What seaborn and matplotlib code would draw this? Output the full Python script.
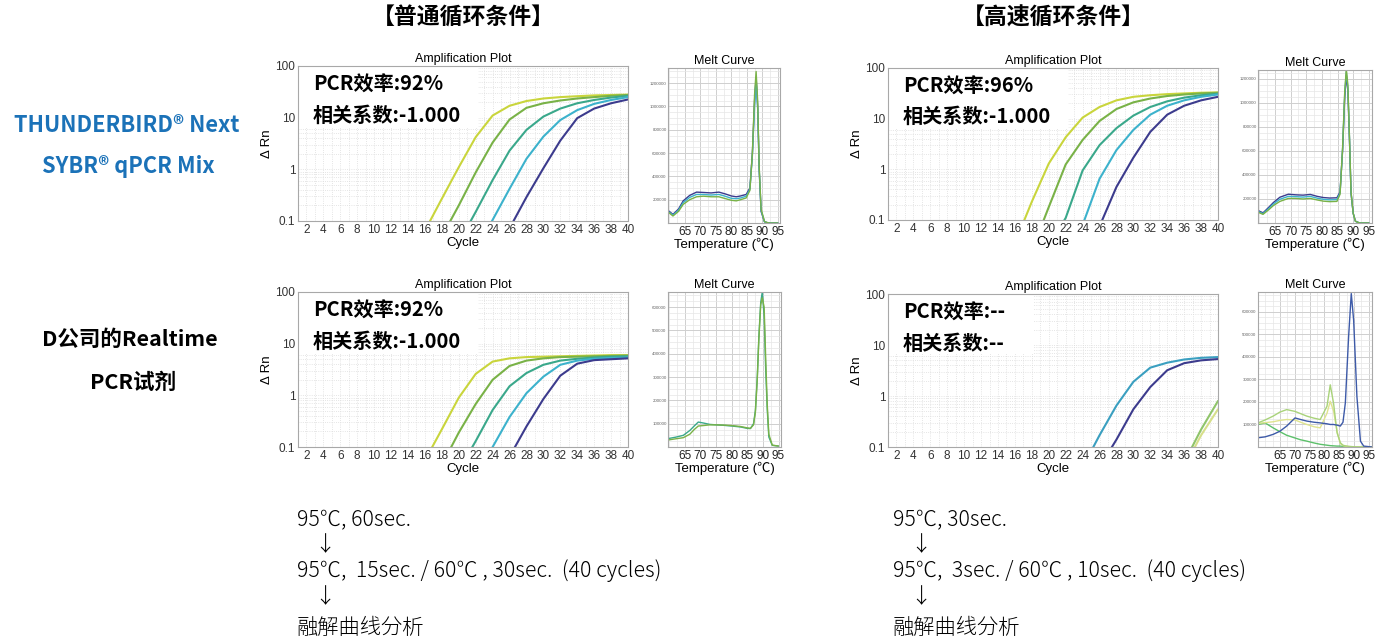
import matplotlib
matplotlib.use("Agg")
import numpy as np
import pandas as pd
import matplotlib.pyplot as plt
from matplotlib.patches import Rectangle
from matplotlib.ticker import MultipleLocator, LogLocator, NullFormatter
import seaborn as sns

W, H = 1389, 643

# ---- amplification curves (delta Rn at each cycle) ----
CYCLES = [16, 18, 20, 22, 24, 26, 28, 30, 32, 34, 36, 38, 40]

tb_normal_1 = [0.065, 0.27, 1.1, 4.2, 11, 17, 21, 23.5, 25, 26, 27, 27.5, 28]
tb_normal_2 = [0.012, 0.05, 0.2, 0.87, 3.3, 9.2, 15.5, 19, 21.5, 23.5, 25, 26.5, 27.5]
tb_normal_3 = [0.003, 0.01, 0.038, 0.15, 0.62, 2.3, 5.8, 10.5, 15, 19, 22, 24.5, 26.5]
tb_normal_4 = [0.001, 0.003, 0.007, 0.026, 0.105, 0.42, 1.6, 4.3, 9, 14, 18.5, 22, 25]
tb_normal_5 = [0.001, 0.001, 0.002, 0.005, 0.018, 0.072, 0.29, 1.05, 3.6, 9.8, 15, 19, 22.5]

tb_fast_1 = [0.035, 0.23, 1.3, 4.3, 10.5, 17, 23, 27, 29, 30.5, 31.5, 32.5, 33]
tb_fast_2 = [0.005, 0.025, 0.18, 1.25, 3.8, 9, 15.5, 21, 25, 28, 30, 31.5, 32.5]
tb_fast_3 = [0.001, 0.004, 0.03, 0.11, 0.95, 3.0, 6.5, 11.5, 17, 22, 26, 29, 31]
tb_fast_4 = [0.001, 0.001, 0.003, 0.013, 0.08, 0.65, 2.4, 6, 12, 18, 23, 27, 30]
tb_fast_5 = [0.001, 0.001, 0.001, 0.003, 0.012, 0.075, 0.45, 1.7, 5.5, 12, 18, 23, 27]

d_normal_1 = [0.055, 0.22, 0.9, 2.6, 4.5, 5.2, 5.5, 5.6, 5.7, 5.8, 5.9, 6.0, 6.0]
d_normal_2 = [0.011, 0.045, 0.19, 0.68, 2.0, 3.7, 4.7, 5.2, 5.5, 5.6, 5.7, 5.8, 5.9]
d_normal_3 = [0.002, 0.009, 0.035, 0.13, 0.52, 1.5, 2.7, 3.9, 4.7, 5.1, 5.4, 5.6, 5.7]
d_normal_4 = [0.001, 0.002, 0.007, 0.028, 0.1, 0.38, 1.1, 2.3, 3.9, 4.7, 5.1, 5.3, 5.4]
d_normal_5 = [0.001, 0.001, 0.002, 0.006, 0.022, 0.065, 0.25, 0.85, 2.4, 4.1, 4.8, 5.0, 5.2]

d_fast_1 = [0.001, 0.001, 0.001, 0.001, 0.001, 0.001, 0.001, 0.001, 0.001, 0.001, 0.04, 0.17, 0.55]
d_fast_2 = [0.001, 0.001, 0.001, 0.001, 0.001, 0.001, 0.001, 0.001, 0.001, 0.001, 0.05, 0.22, 0.8]
d_fast_4 = [0.001, 0.001, 0.002, 0.006, 0.04, 0.17, 0.65, 1.9, 3.6, 4.5, 5.2, 5.6, 5.8]
d_fast_5 = [0.001, 0.001, 0.001, 0.002, 0.01, 0.04, 0.14, 0.55, 1.5, 3.2, 4.4, 5.0, 5.3]

# ---- melt curves (-Rn' vs temperature) ----
tb_normal_temp = [59.6, 61.2, 63, 64.5, 66.6, 68.8, 71, 73.5, 76, 78, 80, 81.6, 83, 84.8,
                  86, 86.8, 87.5, 88.0, 88.5, 89.0, 89.6, 90.7, 92, 95]
tb_normal_melt_a = [108000, 74000, 120000, 190000, 237000, 265000, 262000, 258000, 265000, 250000,
                    232000, 225000, 232000, 245000, 300000, 600000, 1050000, 1250000, 1000000,
                    450000, 100000, 10000, 0, 0]
tb_normal_melt_b = [100000, 68000, 110000, 175000, 220000, 245000, 245000, 240000, 245000, 230000,
                    212000, 208000, 215000, 230000, 290000, 580000, 1000000, 1220000, 980000,
                    460000, 110000, 10000, 0, 0]
tb_normal_melt_c = [95000, 60000, 100000, 160000, 200000, 225000, 230000, 225000, 225000, 210000,
                    195000, 190000, 200000, 215000, 280000, 600000, 1100000, 1300000, 1050000,
                    480000, 120000, 12000, 0, 0]

tb_fast_temp = [59.6, 61.2, 63, 64.5, 66.6, 69.3, 71.5, 74, 76.3, 78.5, 80.5, 82.5, 84.8, 85.8,
                86.6, 87.3, 87.8, 88.3, 88.8, 89.3, 90.0, 90.7, 92, 95]
tb_fast_melt_a = [104000, 84000, 130000, 170000, 215000, 240000, 235000, 232000, 238000, 222000,
                  212000, 208000, 210000, 260000, 600000, 1050000, 1230000, 1100000, 700000,
                  250000, 80000, 15000, 0, 0]
tb_fast_melt_b = [97000, 78000, 120000, 158000, 198000, 222000, 220000, 216000, 222000, 207000,
                  197000, 193000, 195000, 250000, 610000, 1080000, 1260000, 1120000, 710000,
                  255000, 80000, 15000, 0, 0]
tb_fast_melt_c = [90000, 72000, 110000, 145000, 180000, 205000, 205000, 200000, 205000, 192000,
                  182000, 178000, 180000, 240000, 620000, 1100000, 1280000, 1150000, 720000,
                  260000, 80000, 15000, 0, 0]

d_normal_temp = [59.6, 62, 64.5, 66.6, 68, 69.3, 70.9, 73, 75, 77.4, 80, 82.8, 85, 86.0, 87.0,
                 87.6, 88.2, 88.7, 89.3, 89.8, 90.4, 90.9, 91.4, 91.9, 93, 95]
d_normal_melt_a = [36000, 42000, 50000, 71000, 90000, 107000, 103000, 97000, 95000, 93000, 90000,
                   86000, 80000, 79000, 100000, 157000, 300000, 471000, 620000, 665000, 560000,
                   329000, 160000, 43000, 7000, 4000]
d_normal_melt_b = [30000, 35000, 40000, 55000, 75000, 90000, 92000, 95000, 95000, 94000, 92000,
                   88000, 82000, 80000, 95000, 150000, 290000, 460000, 610000, 640000, 600000,
                   380000, 180000, 55000, 8000, 4000]

d_fast_temp = [57.6, 60, 62.7, 65, 67.3, 70.1, 72, 74.1, 76.5, 78.6, 80.9, 82.0, 83.1, 84.3,
               85.4, 86.3, 87.1, 88.2, 89.1, 89.9, 91.0, 92.2, 93.3, 96.1]
d_fast_melt_blue = [41000, 45000, 56000, 70000, 93000, 129000, 122000, 115000, 110000, 107000,
                    103000, 100000, 100000, 97000, 93000, 110000, 196000, 490000, 681000, 563000,
                    225000, 26000, 4000, 0]
d_fast_melt_green = [107000, 120000, 137000, 155000, 166000, 158000, 148000, 137000, 128000,
                     122000, 181000, 276000, 196000, 63000, 19000, 8000, 5000, 3000, 2000, 1000,
                     0, 0, 0, 0]
d_fast_melt_yellow = [105000, 108000, 112000, 118000, 122000, 120000, 110000, 100000, 90000,
                      85000, 150000, 203000, 160000, 70000, 15000, 6000, 4000, 2000, 1000, 0, 0,
                      0, 0, 0]
d_fast_melt_dark = [100000, 107000, 85000, 68000, 52000, 40000, 32000, 26000, 18000, 12000, 8000,
                    6000, 5000, 4000, 4000, 3000, 2000, 1000, 1000, 0, 0, 0, 0, 0]

YELLOW, GREEN, TEAL, CYAN, NAVY = "#c9d53c", "#79b247", "#3aa88b", "#3cb2cc", "#3c3b8d"

sns.set_style("white")
plt.rcParams['font.family'] = ['Liberation Sans', 'Noto Sans CJK JP', 'DejaVu Sans']
plt.rcParams['text.color'] = 'black'
plt.rcParams['axes.labelcolor'] = 'black'

fig = plt.figure(figsize=(W / 100, H / 100), dpi=100)


def add_ax(x0, x1, y0, y1):
    return fig.add_axes([x0 / W, 1 - y1 / H, (x1 - x0) / W, (y1 - y0) / H])


def ftext(x, y, s, **kw):
    fig.text(x / W, 1 - y / H, s, va='center', **kw)


def style_frame(ax):
    for sp in ax.spines.values():
        sp.set_color('#a8a8a8')
        sp.set_linewidth(0.8)


def amp_plot(ax, curves, colors, box_w, box_h, line1, line2):
    rows = []
    for i, vals in enumerate(curves):
        for c, v in zip(CYCLES, vals):
            rows.append((c, v, 's%d' % i))
    df = pd.DataFrame(rows, columns=['cycle', 'drn', 'sample'])
    order = ['s%d' % i for i in range(len(curves))]
    sns.lineplot(data=df, x='cycle', y='drn', hue='sample', hue_order=order,
                 palette=colors, legend=False, ax=ax, linewidth=1.5)
    ax.set_yscale('log')
    ax.set_ylim(0.1, 100)
    ax.set_xlim(1, 40)
    ax.set_xticks(range(2, 41, 2))
    ax.xaxis.set_minor_locator(MultipleLocator(1))
    ax.set_yticks([0.1, 1, 10, 100])
    ax.set_yticklabels(['0.1', '1', '10', '100'])
    ax.yaxis.set_minor_locator(LogLocator(subs=np.arange(2, 10)))
    ax.yaxis.set_minor_formatter(NullFormatter())
    ax.set_axisbelow(True)
    ax.grid(which='both', color='#dcdcdc', linewidth=0.6, linestyle=':')
    ax.tick_params(which='both', length=0, labelsize=8.5, labelcolor='#333333', pad=2)
    ax.set_title("Amplification Plot", fontsize=9, pad=3)
    ax.set_xlabel("Cycle", fontsize=9.5, labelpad=1)
    ax.set_ylabel("Δ Rn", fontsize=9.5, labelpad=2)
    style_frame(ax)
    ax.add_patch(Rectangle((0, 1 - box_h), box_w, box_h, transform=ax.transAxes,
                           facecolor='white', edgecolor='none', zorder=1.5))
    ax.text(0.045, 0.88, line1, transform=ax.transAxes, fontsize=14.5, color='black',
            fontweight='bold', family=['Noto Sans CJK SC'], va='center', zorder=3)
    ax.text(0.045, 0.68, line2, transform=ax.transAxes, fontsize=14.5, color='black',
            fontweight='bold', family=['Noto Sans CJK SC'], va='center', zorder=3)


def melt_plot(ax, temps, curves, colors, xlim, ymax, ystep):
    rows = []
    for i, vals in enumerate(curves):
        for t, v in zip(temps, vals):
            rows.append((t, v, 'm%d' % i))
    df = pd.DataFrame(rows, columns=['temp', 'deriv', 'sample'])
    order = ['m%d' % i for i in range(len(curves))]
    sns.lineplot(data=df, x='temp', y='deriv', hue='sample', hue_order=order,
                 palette=colors, legend=False, ax=ax, linewidth=1.0)
    ax.set_xlim(*xlim)
    ax.set_ylim(0, ymax)
    ax.set_xticks(range(65, 96, 5))
    ax.xaxis.set_minor_locator(MultipleLocator(2.5))
    yt = list(range(ystep, int(ymax), ystep))
    ax.set_yticks(yt)
    ax.set_yticklabels([str(v) for v in yt])
    ax.yaxis.set_minor_locator(MultipleLocator(ystep / 4))
    ax.set_axisbelow(True)
    ax.grid(which='major', color='#cfcfcf', linewidth=0.7)
    ax.grid(which='minor', color='#e6e6e6', linewidth=0.5)
    ax.tick_params(axis='x', which='both', length=0, labelsize=8.5, labelcolor='#222222', pad=2)
    ax.tick_params(axis='y', which='both', length=0, labelsize=3.2, labelcolor='#666666', pad=1)
    ax.set_title("Melt Curve", fontsize=9, pad=3)
    ax.set_xlabel("Temperature (℃)", fontsize=9.5, labelpad=0)
    ax.set_ylabel("")
    style_frame(ax)


# top left: THUNDERBIRD, normal cycling
ax = add_ax(298, 628, 66, 221)
amp_plot(ax, [tb_normal_1, tb_normal_2, tb_normal_3, tb_normal_4, tb_normal_5],
         [YELLOW, GREEN, TEAL, CYAN, NAVY], 0.545, 0.40, "PCR效率:92%", "相关系数:-1.000")
ax = add_ax(668, 780, 68, 223)
melt_plot(ax, tb_normal_temp, [tb_normal_melt_a, tb_normal_melt_b, tb_normal_melt_c],
          [NAVY, CYAN, GREEN], (59.6, 95.7), 1330000, 200000)

# top right: THUNDERBIRD, fast cycling
ax = add_ax(888, 1218, 68, 220)
amp_plot(ax, [tb_fast_1, tb_fast_2, tb_fast_3, tb_fast_4, tb_fast_5],
         [YELLOW, GREEN, TEAL, CYAN, NAVY], 0.545, 0.40, "PCR效率:96%", "相关系数:-1.000")
ax = add_ax(1258, 1372, 70, 223)
melt_plot(ax, tb_fast_temp, [tb_fast_melt_a, tb_fast_melt_b, tb_fast_melt_c],
          [NAVY, CYAN, GREEN], (59.6, 96.0), 1275000, 200000)

# bottom left: D company, normal cycling
ax = add_ax(298, 628, 292, 447)
amp_plot(ax, [d_normal_1, d_normal_2, d_normal_3, d_normal_4, d_normal_5],
         [YELLOW, GREEN, TEAL, CYAN, NAVY], 0.545, 0.40, "PCR效率:92%", "相关系数:-1.000")
ax = add_ax(668, 781, 292, 447)
melt_plot(ax, d_normal_temp, [d_normal_melt_a, d_normal_melt_b],
          [TEAL, GREEN], (59.6, 95.8), 665000, 100000)

# bottom right: D company, fast cycling
ax = add_ax(888, 1218, 294, 447)
amp_plot(ax, [d_fast_1, d_fast_2, d_fast_4, d_fast_5],
         ["#d6df8a", "#8fc46a", "#3a9fc0", NAVY], 0.44, 0.39, "PCR效率:--", "相关系数:--")
ax = add_ax(1258, 1372, 292, 447)
melt_plot(ax, d_fast_temp, [d_fast_melt_dark, d_fast_melt_yellow, d_fast_melt_green, d_fast_melt_blue],
          ["#5cc06a", "#dfe48f", "#a9d37a", "#3d5aa8"], (57.6, 96.1), 688000, 100000)

# headers and row labels
hdr = dict(fontsize=16.5, fontweight='bold', family=['Noto Sans CJK SC'], ha='center',
           color='black')
ftext(463, 18, "【普通循环条件】", **hdr)
ftext(1053, 18, "【高速循环条件】", **hdr)

blue = dict(fontsize=15.7, fontweight='bold', family=['Noto Sans CJK SC'],
            color='#1b72b8', ha='center')
ftext(127, 126, "THUNDERBIRD® Next", **blue)
ftext(128, 167, "SYBR® qPCR Mix", **blue)
blk = dict(fontsize=15.5, fontweight='bold', family=['Noto Sans CJK SC'], ha='center',
           color='black')
ftext(130, 339, "D公司的Realtime", **blk)
ftext(133, 382, "PCR试剂", **blk)

# cycling conditions
cond = dict(fontsize=15.3, fontweight='light', family=['Noto Sans CJK JP', 'DejaVu Sans'],
            color='black')
for x0, first, second in [(297, "95℃, 60sec.", "95℃,  15sec. / 60℃ , 30sec.  (40 cycles)"),
                          (893, "95℃, 30sec.", "95℃,  3sec. / 60℃ , 10sec.  (40 cycles)")]:
    ftext(x0, 520, first, **cond)
    ftext(x0 + 28, 545, "↓", ha='center', **cond)
    ftext(x0, 571, second, **cond)
    ftext(x0 + 28, 597, "↓", ha='center', **cond)
    ftext(x0, 628, "融解曲线分析", **cond)

fig.savefig("out.png", dpi=100)
